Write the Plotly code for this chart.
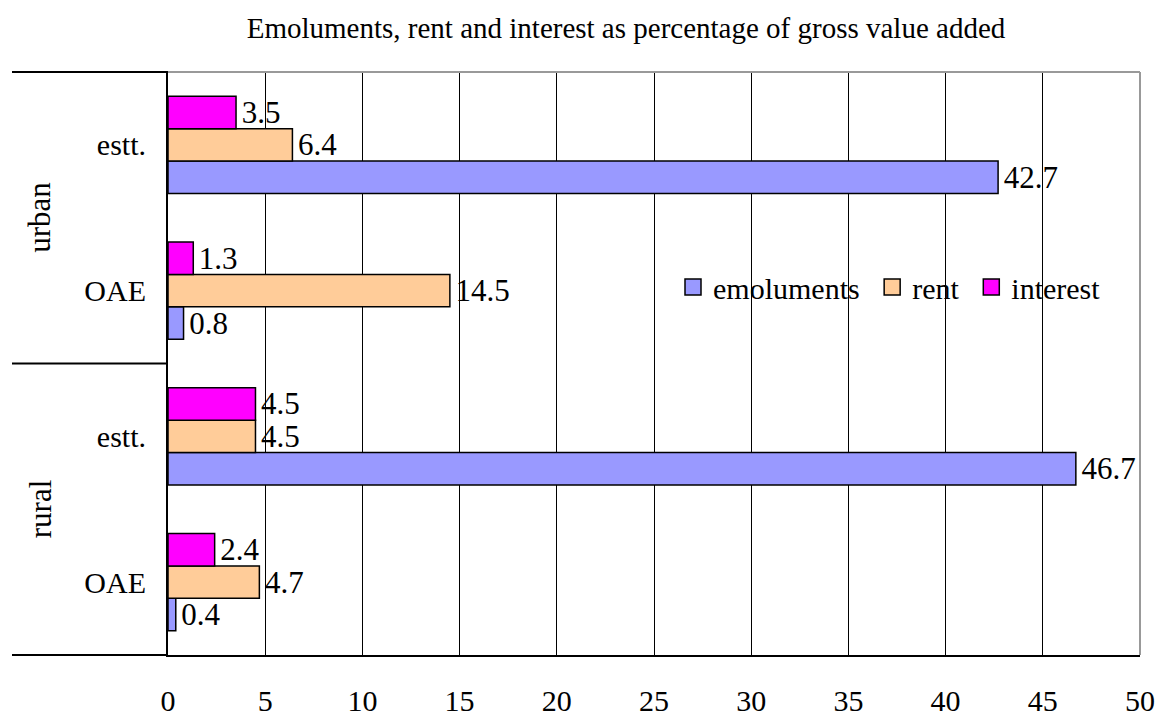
import plotly.graph_objects as go

groups = ["rural", "rural", "urban", "urban"]
types = ["OAE", "estt.", "OAE", "estt."]
emoluments = [0.4, 46.7, 0.8, 42.7]
rent = [4.7, 4.5, 14.5, 6.4]
interest = [2.4, 4.5, 1.3, 3.5]
series_names = ["emoluments", "rent", "interest"]
series_colors = ["#9999FF", "#FFCC99", "#FF00FF"]
x_ticks = [0, 5, 10, 15, 20, 25, 30, 35, 40, 45, 50]

FONT = "Liberation Serif"
cats = [f"{g} {t}" for g, t in zip(groups, types)]

W, H = 1158, 717
L, R, T, B = 168, 18, 72, 62
PW = W - L - R  # 972
PH = H - T - B  # 583

fig = go.Figure()
for name, vals, col in zip(series_names, [emoluments, rent, interest], series_colors):
    fig.add_trace(go.Bar(
        y=cats, x=vals, orientation="h", name=name,
        marker=dict(color=col, line=dict(color="black", width=1.5)),
        text=["\u200a" + f"{v:.1f}" for v in vals], textposition="outside",
        textfont=dict(family=FONT, size=31, color="black"),
        constraintext="none", cliponaxis=False, showlegend=False,
    ))
    # legend swatch
    fig.add_trace(go.Scatter(
        x=[None], y=[None], mode="markers", name=name + "\u00a0",
        marker=dict(symbol="square", size=18, color=col, line=dict(color="black", width=1.5)),
        showlegend=True,
    ))

x_left = (12 - L) / PW
shapes = [
    dict(type="line", xref="paper", yref="paper", x0=x_left, x1=0, y0=1, y1=1, line=dict(color="black", width=2)),
    dict(type="line", xref="paper", yref="paper", x0=x_left, x1=0, y0=0.5, y1=0.5, line=dict(color="black", width=2)),
    dict(type="line", xref="paper", yref="paper", x0=x_left, x1=0, y0=0, y1=0, line=dict(color="black", width=2)),
    dict(type="line", xref="paper", yref="paper", x0=0, x1=1, y0=1, y1=1, line=dict(color="#999999", width=2)),
    dict(type="line", xref="paper", yref="paper", x0=1, x1=1, y0=0, y1=1, line=dict(color="#999999", width=2)),
]

annotations = []
for g, yc in [("rural", 0.25), ("urban", 0.75)]:
    annotations.append(dict(
        text=g, xref="paper", yref="paper", x=(40 - L) / PW, y=yc,
        showarrow=False, textangle=-90, xanchor="center", yanchor="middle",
        font=dict(family=FONT, size=31, color="black"),
    ))

fig.update_layout(
    width=W, height=H,
    margin=dict(l=L, r=R, t=T, b=B, autoexpand=False),
    paper_bgcolor="white", plot_bgcolor="white",
    barmode="group", bargap=0.333, bargroupgap=0,
    font=dict(family=FONT, size=30, color="black"),
    title=dict(text="Emoluments, rent and interest as percentage of gross value added",
               x=626 / W, xref="container", xanchor="center",
               y=1 - 28 / H, yref="container", yanchor="middle",
               font=dict(family=FONT, size=29, color="black")),
    xaxis=dict(range=[0, 50], tickvals=x_ticks, ticktext=[str(t) for t in x_ticks],
               showgrid=True, gridcolor="black", gridwidth=1,
               showline=True, linecolor="black", linewidth=2,
               ticks="", ticklabelstandoff=18, zeroline=False, automargin=False,
               tickfont=dict(family=FONT, size=30, color="black")),
    yaxis=dict(categoryorder="array", categoryarray=cats, tickvals=cats, ticktext=types,
               showgrid=False, showline=True, linecolor="black", linewidth=2,
               ticks="", ticklabelstandoff=14, automargin=False,
               tickfont=dict(family=FONT, size=30, color="black")),
    legend=dict(orientation="h", x=(673 - L) / PW, y=(655 - 287) / PH,
                xanchor="left", yanchor="middle", bgcolor="rgba(0,0,0,0)",
                font=dict(family=FONT, size=30, color="black"),
                itemsizing="trace", traceorder="normal"),
    shapes=shapes, annotations=annotations,
)

fig.write_html(
    "out.html",
    config={"displayModeBar": False},
    post_script="document.body.style.margin='0';document.body.style.overflow='hidden';",
)
